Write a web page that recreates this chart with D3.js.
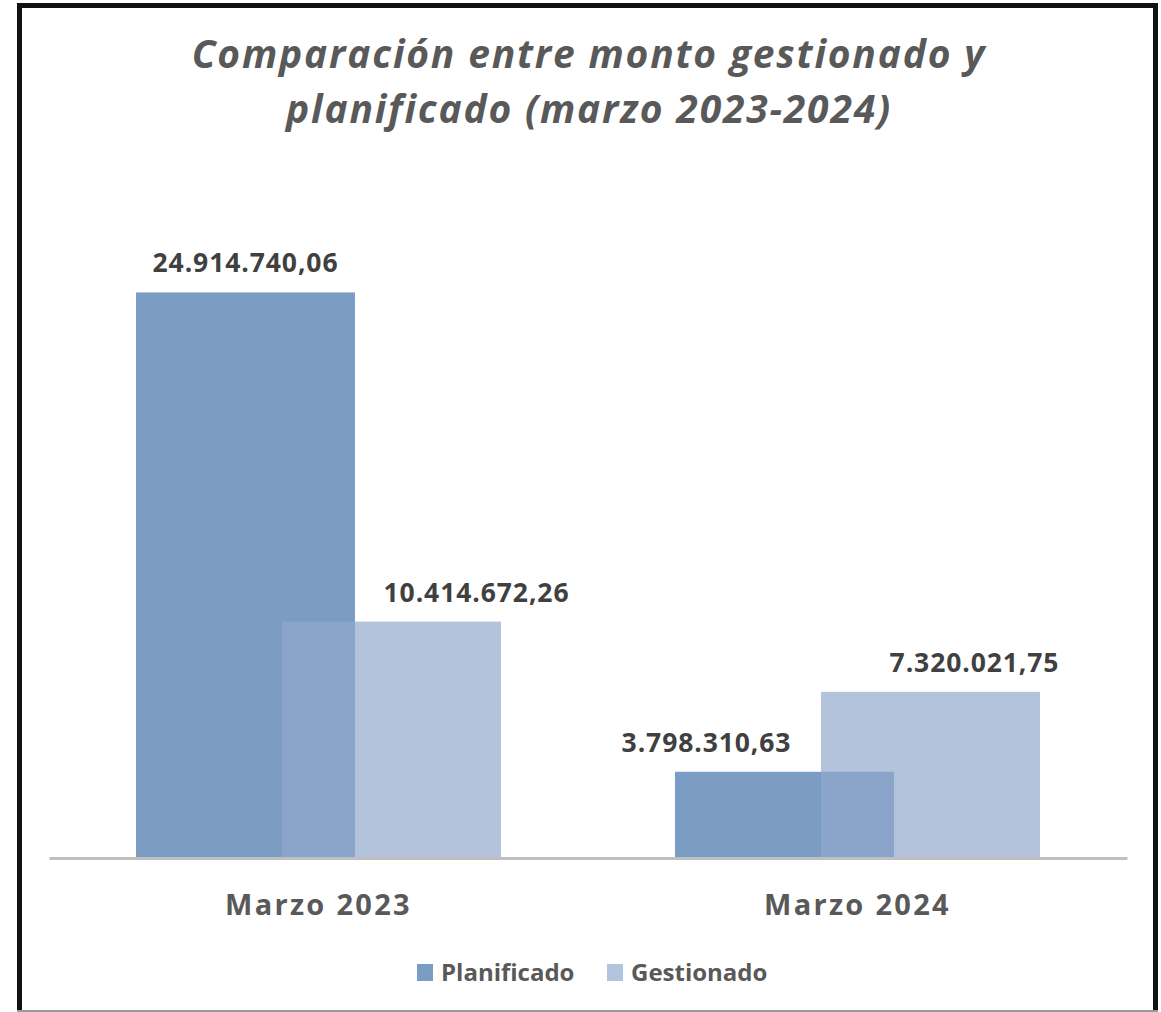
<!DOCTYPE html>
<html>
<head>
<meta charset="utf-8">
<script src="https://cdn.jsdelivr.net/npm/d3@7"></script>
<style>
  body { margin: 0; background: #fff; }
  svg { display: block; font-family: "Open Sans", "DejaVu Sans", sans-serif; }
</style>
</head>
<body>
<div id="chart"></div>
<script>
// data
var categories = ["Marzo 2023", "Marzo 2024"];
var seriesNames = ["Planificado", "Gestionado"];
var planificado = [24914740.06, 3798310.63];
var gestionado = [10414672.26, 7320021.75];
var labelText = [
  ["24.914.740,06", "3.798.310,63"],
  ["10.414.672,26", "7.320.021,75"]
];
// labels were moved by hand in the original, keep the shift per series/category
var labelShift = [[0, -78], [85, 44]];

var colors = ["#7b9cc3", "#92aacc"];
var opacity = [1, 0.7];

var width = 1161, height = 1012;
var svg = d3.select("#chart").append("svg")
  .attr("width", width)
  .attr("height", height);

//frame
svg.append("rect")
  .attr("x", 19.5).attr("y", 5.5)
  .attr("width", 1136).attr("height", 1010)
  .style("fill", "#fff")
  .style("stroke", "#111")
  .style("stroke-width", 5);
svg.append("line")
  .attr("x1", 17).attr("x2", 1158)
  .attr("y1", 1011).attr("y2", 1011)
  .style("stroke", "#9a9a9a")
  .style("stroke-width", 2);

//title
var title = svg.append("text")
  .style("text-anchor", "middle")
  .style("font-size", 39)
  .style("letter-spacing", "1.8px")
  .style("font-weight", "bold")
  .style("font-style", "italic")
  .style("fill", "#595959");
title.append("tspan").attr("x", 589).attr("y", 68).text("Comparación entre monto gestionado y");
title.append("tspan").attr("x", 589).attr("y", 123).text("planificado (marzo 2023-2024)");

//scales
var x0 = d3.scaleBand()
  .domain(categories)
  .range([49, 1127]);
var y = d3.scaleLinear()
  .domain([0, 30000000])
  .range([858, 177]);

var groupW = x0.bandwidth() * 365 / 539;
var barW = groupW * 0.6;
var step = groupW - barW;

var series = [planificado, gestionado];

series.forEach(function(values, s) {
  svg.append("g").selectAll("rect")
    .data(values)
    .enter().append("rect")
    .attr("x", function(d, i) {
      return x0(categories[i]) + (x0.bandwidth() - groupW) / 2 + s * step;
    })
    .attr("y", function(d) { return y(d); })
    .attr("width", barW)
    .attr("height", function(d) { return y(0) - y(d); })
    .style("fill", colors[s])
    .style("fill-opacity", opacity[s]);
});

//value labels
series.forEach(function(values, s) {
  svg.append("g").selectAll("text")
    .data(values)
    .enter().append("text")
    .text(function(d, i) { return labelText[s][i]; })
    .attr("x", function(d, i) {
      return x0(categories[i]) + (x0.bandwidth() - groupW) / 2 + s * step + barW / 2 + labelShift[s][i];
    })
    .attr("y", function(d) { return y(d) - 20; })
    .style("text-anchor", "middle")
    .style("font-size", 26.5)
    .style("letter-spacing", "0.9px")
    .style("font-weight", "bold")
    .style("fill", "#404040");
});

//axis
var xAxis = svg.append("g")
  .attr("transform", "translate(0," + y(0) + ")")
  .call(d3.axisBottom(x0).tickSize(0).tickPadding(36));
xAxis.select(".domain")
  .style("stroke", "#bfbfbf")
  .style("stroke-width", 3);
xAxis.selectAll("text")
  .style("font-family", "'Open Sans', sans-serif")
  .style("font-size", 29)
  .style("letter-spacing", "2.3px")
  .style("font-weight", "bold")
  .style("fill", "#595959");

//legend
var legendX = [417, 607];
var legend = svg.append("g").selectAll("g")
  .data(seriesNames)
  .enter().append("g")
  .attr("transform", function(d, i) { return "translate(" + legendX[i] + ",964)"; });
legend.append("rect")
  .attr("width", 16)
  .attr("height", 17)
  .style("fill", function(d, i) { return i == 0 ? colors[0] : "#b3c4de"; });
legend.append("text")
  .text(function(d) { return d; })
  .attr("x", 24)
  .attr("y", 17)
  .style("font-size", 24)
  .style("font-weight", "bold")
  .style("fill", "#595959");
</script>
</body>
</html>
